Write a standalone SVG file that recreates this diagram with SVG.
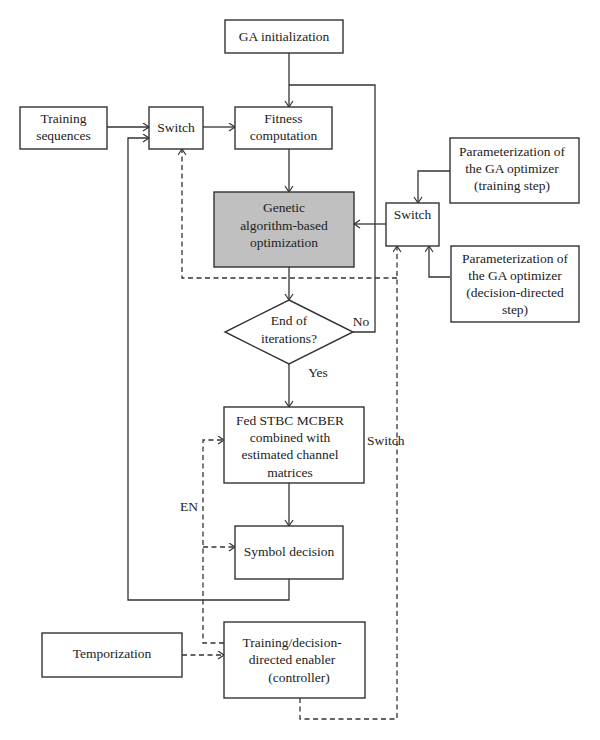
<svg xmlns="http://www.w3.org/2000/svg" width="600" height="740" viewBox="0 0 600 740">
<style>
.box{fill:#fff;stroke:#333;stroke-width:1.4}
.gray{fill:#c0c0c0}
text{font-family:'Liberation Serif','DejaVu Serif',serif;font-size:13.5px;fill:#222;text-anchor:middle}
.l{text-anchor:start}
.c{fill:none;stroke:#333;stroke-width:1.3}
.d{stroke-dasharray:5,3.5}
</style>
<defs>
<marker id="a" markerWidth="9" markerHeight="10" refX="7" refY="4.5" orient="auto" markerUnits="userSpaceOnUse">
<path d="M1,0.5 L7,4.5 L1,8.5" fill="none" stroke="#333" stroke-width="1.2"/>
</marker>
</defs>
<rect width="600" height="740" fill="#fff"/>
<g id="connectors">
<path class="c" d="M289,53 V107" marker-end="url(#a)"/>
<path class="c" d="M353,332 H375 V85 H289"/>
<path class="c" d="M107,127 H149" marker-end="url(#a)"/>
<path class="c" d="M203,127 H235" marker-end="url(#a)"/>
<path class="c" d="M289,149 V192" marker-end="url(#a)"/>
<path class="c" d="M289,267 V300" marker-end="url(#a)"/>
<path class="c" d="M289,364 V407" marker-end="url(#a)"/>
<path class="c" d="M289,483 V526" marker-end="url(#a)"/>
<path class="c" d="M289,579 V600 H128 V138 H149" marker-end="url(#a)"/>
<path class="c" d="M450,171 H418 V203" marker-end="url(#a)"/>
<path class="c" d="M450,277 H429 V246" marker-end="url(#a)"/>
<path class="c" d="M386,224 H354" marker-end="url(#a)"/>
<path class="c d" d="M300,698 V719 H397 V246" marker-end="url(#a)"/>
<path class="c d" d="M397,278 H182 V149" marker-end="url(#a)"/>
<path class="c d" d="M182,655 H224" marker-end="url(#a)"/>
<path class="c d" d="M224,643 H203 V440 H224" marker-end="url(#a)"/>
<path class="c d" d="M203,547 H235" marker-end="url(#a)"/>
</g>
<g id="ga-init"><rect class="box" x="225" y="20" width="118" height="33"/><text x="284" y="41">GA initialization</text></g>
<g id="training-seq"><rect class="box" x="20" y="107" width="87" height="42"/><text x="63.5" y="123">Training</text><text x="63.5" y="140">sequences</text></g>
<g id="switch-left"><rect class="box" x="149" y="107" width="54" height="42"/><text x="176" y="132">Switch</text></g>
<g id="fitness"><rect class="box" x="235" y="107" width="97" height="42"/><text x="283.5" y="123">Fitness</text><text x="283.5" y="140">computation</text></g>
<g id="ga-opt"><rect class="box gray" x="214" y="192" width="140" height="75"/><text x="284" y="212">Genetic</text><text x="284" y="230">algorithm-based</text><text x="284" y="247">optimization</text></g>
<g id="switch-right"><rect class="box" x="386" y="203" width="53" height="43"/><text x="412.5" y="219">Switch</text></g>
<g id="param-train"><rect class="box" x="450" y="138" width="129" height="65"/><text x="512" y="156">Parameterization of</text><text x="512" y="173">the GA optimizer</text><text x="512" y="190">(training step)</text></g>
<g id="param-dd"><rect class="box" x="451" y="246" width="128" height="76"/><text x="515" y="263">Parameterization of</text><text x="515" y="280">the GA optimizer</text><text x="515" y="297">(decision-directed</text><text x="515" y="314">step)</text></g>
<g id="end-iter"><polygon class="box" points="289,300 353,332 289,364 225,332"/><text x="289" y="325">End of</text><text x="289" y="343">iterations?</text></g>
<g id="fed-stbc"><rect class="box" x="224" y="407" width="140" height="76"/><text x="290" y="425">Fed STBC MCBER</text><text x="290" y="442">combined with</text><text x="290" y="459">estimated channel</text><text x="290" y="477">matrices</text></g>
<g id="symbol"><rect class="box" x="235" y="526" width="108" height="53"/><text x="289" y="556">Symbol decision</text></g>
<g id="temporization"><rect class="box" x="42" y="633" width="140" height="44"/><text x="112" y="658">Temporization</text></g>
<g id="controller"><rect class="box" x="224" y="622" width="141" height="76"/><text x="292" y="647">Training/decision-</text><text x="292" y="664">directed enabler</text><text x="299" y="682">(controller)</text></g>
<g id="labels"><text x="361" y="326">No</text><text x="318" y="377">Yes</text><text class="l" x="367" y="445">Switch</text><text x="189" y="511">EN</text></g>
</svg>
